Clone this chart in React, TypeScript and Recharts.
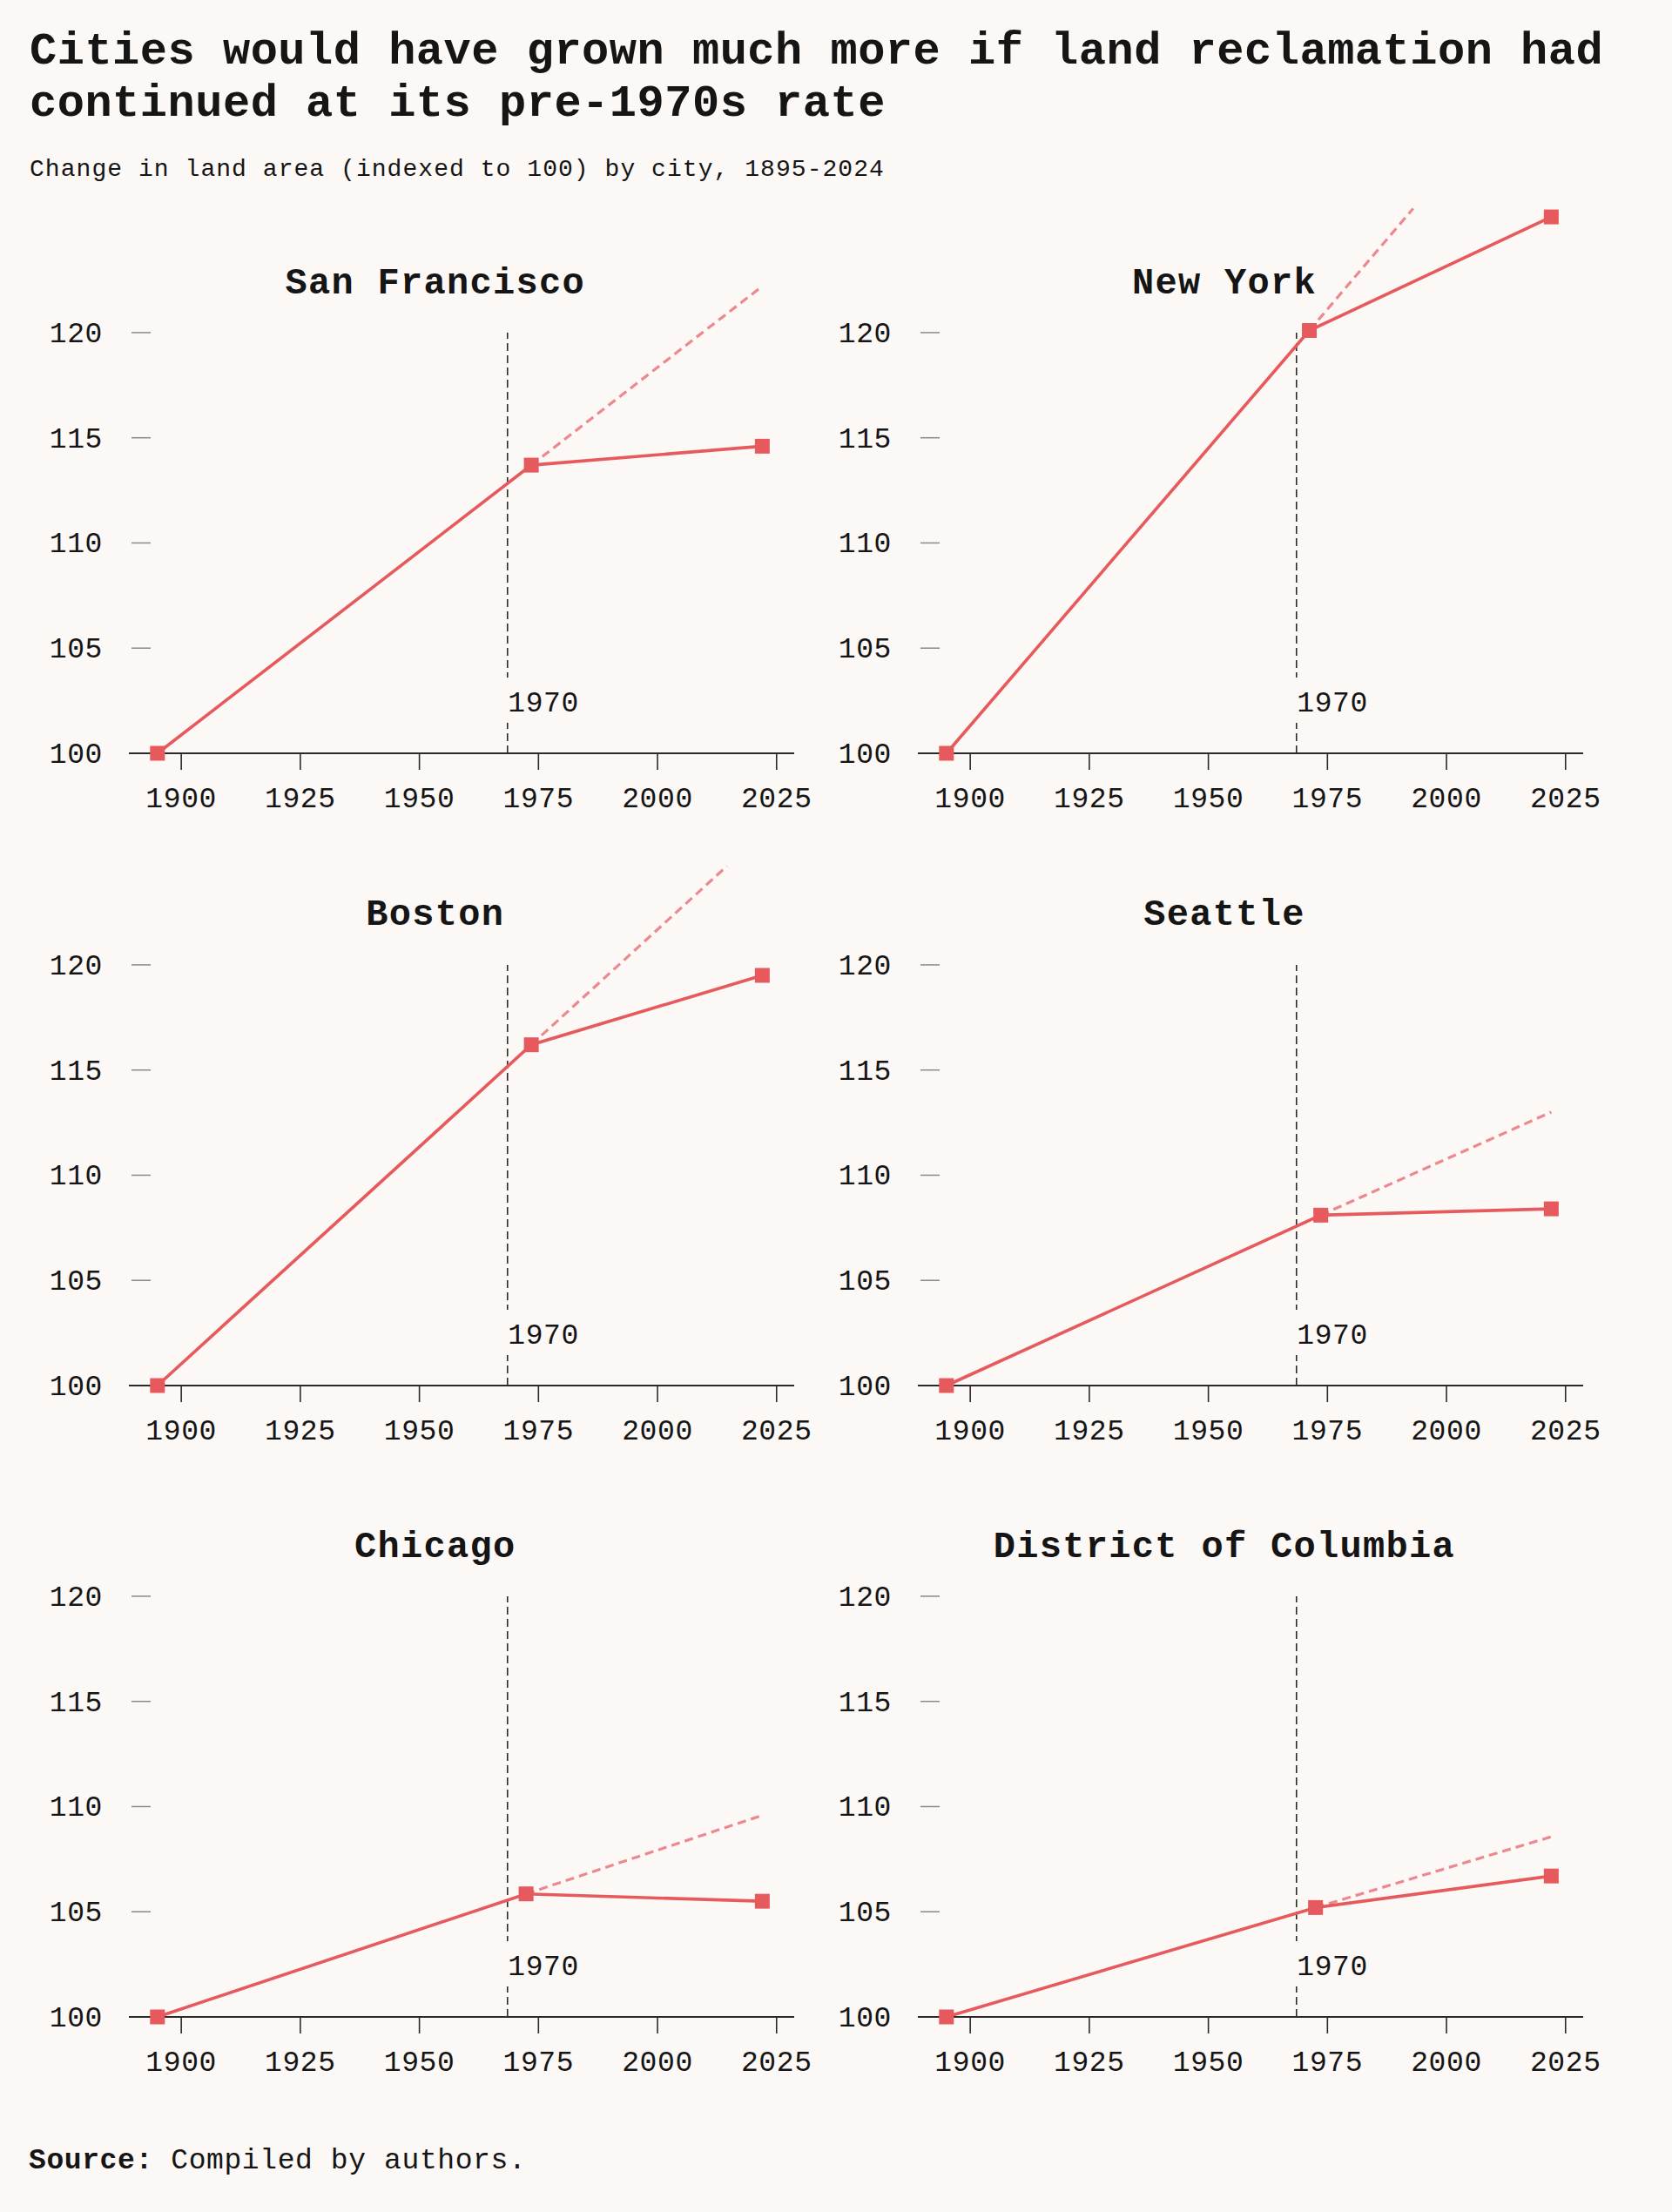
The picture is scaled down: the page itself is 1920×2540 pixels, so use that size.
import { LineChart, Line, XAxis, YAxis, ReferenceLine } from 'recharts'

const FONT = '"Liberation Mono", "DejaVu Sans Mono", monospace'
const BG = '#fcf8f5'
const RED = '#e65a5e'
const RED_LIGHT = '#ec8890'
const INK = '#151515'

// panel data
const CITIES = ['San Francisco', 'New York', 'Boston', 'Seattle', 'Chicago', 'District of Columbia']
const START_YEAR = 1895
const START_VALUE = 100
const MID_YEARS = [1973.5, 1971.2, 1973.5, 1973.6, 1972.4, 1972.5]
const MID_VALUES = [113.7, 120.1, 116.2, 108.1, 105.85, 105.2]
const END_YEAR = 2022
const END_VALUES = [114.6, 125.5, 119.5, 108.4, 105.5, 106.7]
// where the dashed pre-1970 trend line stops
const TREND_END_YEARS = [2021.4, 1993, 2014.6, 2022, 2022.2, 2022.5]
const TREND_END_VALUES = [122.1, 125.9, 124.7, 113.0, 109.6, 108.6]

const X_TICKS = [1900, 1925, 1950, 1975, 2000, 2025]
const Y_TICKS = [100, 105, 110, 115, 120]
const BREAK_YEAR = 1968.5
const BREAK_LABEL = '1970'

const W = 940
const H = 760
const COL_STEP = 906.1
const ROW_STEP = 725.5
const TOP0 = 200

function YTick({ x, y, payload }: any) {
  return (
    <g>
      <text x={x - 30} y={y + 11} textAnchor="end" fontSize={33} letterSpacing={0.6} fontFamily={FONT} fill={INK}>
        {payload.value}
      </text>
      {payload.value !== 100 && (
        <line x1={x + 3} x2={x + 25} y1={y} y2={y} stroke="#8a8a8a" strokeWidth={1.5} />
      )}
    </g>
  )
}

function XTick({ x, y, payload }: any) {
  return (
    <text x={x} y={y + 43} textAnchor="middle" fontSize={33} letterSpacing={0.6} fontFamily={FONT} fill={INK}>
      {payload.value}
    </text>
  )
}

function SquareDot(props: any) {
  const { cx, cy, index } = props
  if (cx == null || cy == null) return <g key={index} />
  return <rect key={index} x={cx - 8.5} y={cy - 8.5} width={17} height={17} fill={RED} />
}

function BreakLabel(props: any) {
  const vb = props.viewBox || {}
  const bottom = vb.y + vb.height
  return (
    <g>
      <rect x={vb.x - 4} y={bottom - 87} width={92} height={52} fill={BG} />
      <text x={vb.x + 0.5} y={bottom - 48} fontSize={33} letterSpacing={0.6} fontFamily={FONT} fill={INK}>
        {BREAK_LABEL}
      </text>
    </g>
  )
}

function Panel({ i }: { i: number }) {
  const actual = [
    { year: START_YEAR, v: START_VALUE },
    { year: MID_YEARS[i], v: MID_VALUES[i] },
    { year: END_YEAR, v: END_VALUES[i] },
  ]
  const trend = [
    { year: MID_YEARS[i], v: MID_VALUES[i] },
    { year: TREND_END_YEARS[i], v: TREND_END_VALUES[i] },
  ]
  const col = i % 2
  const row = Math.floor(i / 2)
  return (
    <div style={{ position: 'absolute', left: col * COL_STEP, top: TOP0 + row * ROW_STEP, width: W, height: H }}>
      <LineChart width={W} height={H} margin={{ top: 37, right: 28, bottom: 25, left: 88 }}>
        <XAxis
          dataKey="year"
          type="number"
          domain={[1889, 2028.7]}
          ticks={X_TICKS}
          height={70}
          stroke="#2a2a2a"
          strokeWidth={1.8}
          tickSize={19}
          tickMargin={0}
          tickLine={{ stroke: '#2a2a2a', strokeWidth: 1.6 }}
          tick={<XTick />}
        />
        <YAxis
          type="number"
          domain={[100, 126]}
          ticks={Y_TICKS}
          width={60}
          axisLine={false}
          tickLine={false}
          tickSize={0}
          tickMargin={0}
          tick={<YTick />}
        />
        <ReferenceLine
          segment={[{ x: BREAK_YEAR, y: 100 }, { x: BREAK_YEAR, y: 120 }]}
          stroke="#2a2a2a"
          strokeWidth={1.6}
          strokeDasharray="9 5"
          label={<BreakLabel />}
        />
        <Line
          data={trend}
          dataKey="v"
          stroke={RED_LIGHT}
          strokeWidth={3.2}
          strokeDasharray="10 6"
          dot={false}
          activeDot={false}
          isAnimationActive={false}
        />
        <Line
          data={actual}
          dataKey="v"
          stroke={RED}
          strokeWidth={3.6}
          dot={<SquareDot />}
          activeDot={false}
          isAnimationActive={false}
        />
      </LineChart>
    </div>
  )
}

export default function App() {
  return (
    <div style={{ position: 'absolute', left: 0, top: 0, width: 1920, height: 2540, background: BG, overflow: 'hidden' }}>
      {CITIES.map((_, i) => (
        <Panel key={i} i={i} />
      ))}
      <svg width={1920} height={2540} style={{ position: 'absolute', left: 0, top: 0, pointerEvents: 'none' }}>
        <g fontFamily={FONT} fill={INK}>
          <text x={34} y={72.7} fontSize={52} fontWeight="bold" letterSpacing={0.5}>
            Cities would have grown much more if land reclamation had
          </text>
          <text x={34} y={133.3} fontSize={52} fontWeight="bold" letterSpacing={0.5}>
            continued at its pre-1970s rate
          </text>
          <text x={34} y={201.7} fontSize={28} letterSpacing={1.05}>
            Change in land area (indexed to 100) by city, 1895-2024
          </text>
          {CITIES.map((c, i) => (
            <text
              key={c}
              x={499.8 + (i % 2) * COL_STEP}
              y={336.7 + Math.floor(i / 2) * ROW_STEP}
              textAnchor="middle"
              fontSize={42}
              fontWeight="bold"
              letterSpacing={1.3}
            >
              {c}
            </text>
          ))}
          <text x={33} y={2490} fontSize={33} letterSpacing={0.6}>
            <tspan fontWeight="bold">Source:</tspan> Compiled by authors.
          </text>
        </g>
      </svg>
    </div>
  )
}
